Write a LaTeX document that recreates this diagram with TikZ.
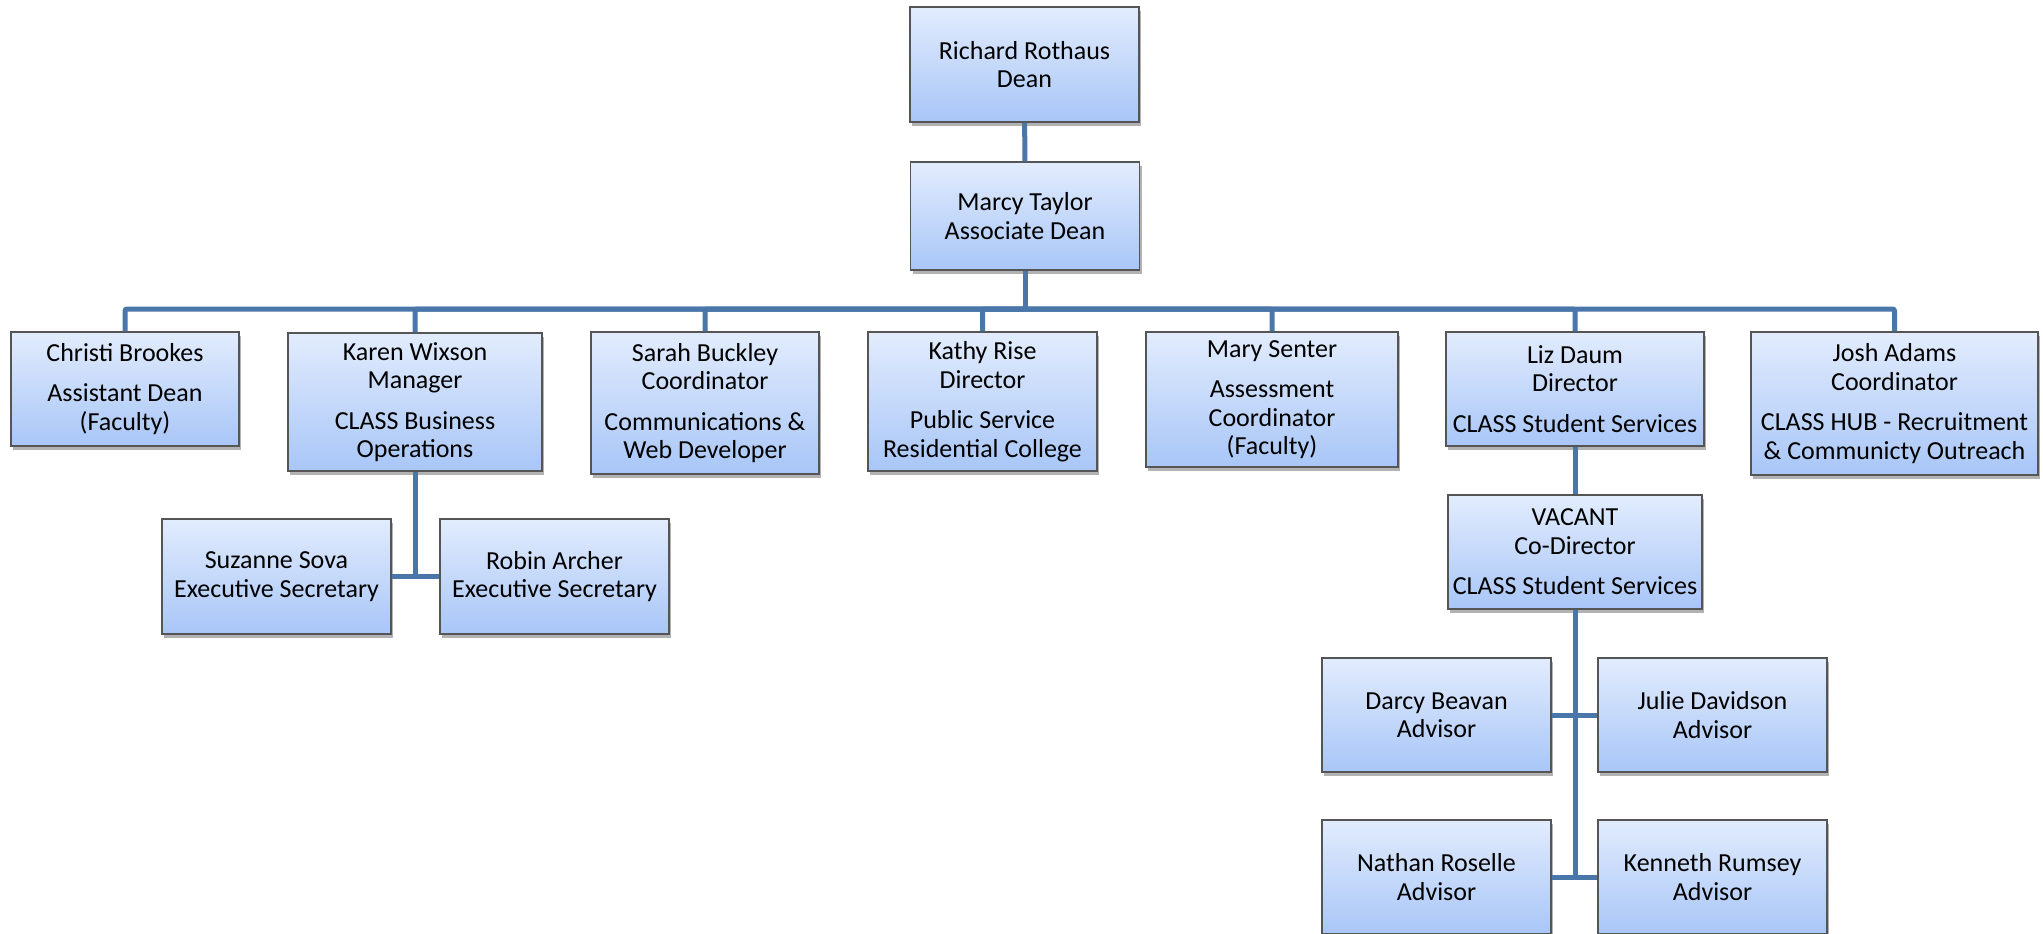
\documentclass[tikz,border=0pt]{standalone}
\usepackage{fontspec}
\setmainfont{Carlito}
\usepackage{tikz}
\usetikzlibrary{shadows}
\definecolor{boxtop}{RGB}{226,236,253}
\definecolor{boxbot}{RGB}{168,198,247}
\definecolor{boxline}{RGB}{85,85,85}
\definecolor{orgblue}{RGB}{74,118,170}
\tikzset{person/.style={draw=boxline, line width=1.2pt, top color=boxtop, bottom color=boxbot,
    minimum width=#1, inner sep=3pt, align=center, text=black,
    font=\fontsize{26}{28.5}\selectfont,
    drop shadow={shadow xshift=2pt, shadow yshift=-4pt, fill=black, opacity=0.3}},
  person/.default={229pt},
  link/.style={draw=orgblue, line width=5pt, rounded corners=2pt}}

\begin{document}
\begin{tikzpicture}[x=1pt, y=-1pt]
    \useasboundingbox (0,0) rectangle (2043,934);

    % top of the chart
    \node [person, minimum height=115pt] (rich) at (1024.5,64.5) {Richard Rothaus\\Dean};
    \node [person, minimum height=108pt] (marcy) at (1025,216) {Marcy Taylor\\Associate Dean};

    % second row
    \node [person=228pt, minimum height=114pt] (christi) at (125,389) {Christi Brookes\\[12pt]Assistant Dean\\(Faculty)};
    \node [person=254pt, minimum height=138pt] (karen) at (415,402) {Karen Wixson\\Manager\\[12pt]CLASS Business\\Operations};
    \node [person=228pt, minimum height=142pt] (sarah) at (705,403) {Sarah Buckley\\Coordinator\\[12pt]Communications \&\\Web Developer};
    \node [person, minimum height=139pt] (kathy) at (982.5,401.5) {Kathy Rise\\Director\\[12pt]Public Service\\Residential College};
    \node [person=252pt, minimum height=135pt] (mary) at (1272,399.5) {Mary Senter\\[12pt]Assessment\\Coordinator\\(Faculty)};
    \node [person=258pt, minimum height=114pt] (liz) at (1575,389) {Liz Daum\\Director\\[12pt]CLASS Student Services};
    \node [person=287pt, minimum height=143pt] (josh) at (1894.5,403.5) {Josh Adams\\Coordinator\\[12pt]CLASS HUB - Recruitment\\\& Communicty Outreach};

    % under Karen
    \node [person, minimum height=115pt] (suzanne) at (276.5,576.5) {Suzanne Sova\\Executive Secretary};
    \node [person, minimum height=115pt] (robin) at (554.5,576.5) {Robin Archer\\Executive Secretary};

    % under Liz
    \node [person=254pt, minimum height=114pt] (vacant) at (1575,552) {VACANT\\Co-Director\\[12pt]CLASS Student Services};
    \node [person, minimum height=114pt] (darcy) at (1436.5,715) {Darcy Beavan\\Advisor};
    \node [person, minimum height=114pt] (julie) at (1712.5,715) {Julie Davidson\\Advisor};
    \node [person, minimum height=114pt] (nathan) at (1436.5,877) {Nathan Roselle\\Advisor};
    \node [person, minimum height=114pt] (kenneth) at (1712.5,877) {Kenneth Rumsey\\Advisor};

    \coordinate (bar) at (1025,309);
    \coordinate (kj) at (415,576);
    \coordinate (vj) at (1575,877);

    \path[link] (rich) edge (marcy)
        (marcy) edge (bar)
        (karen) edge (kj)
        (suzanne.east) edge (robin.west)
        (liz) edge (vacant)
        (vacant) edge (vj)
        (darcy.east) edge (julie.west)
        (nathan.east) edge (kenneth.west);
    \foreach \who in {christi, karen, sarah, kathy, mary, liz, josh}
        \draw[link] (bar) -| (\who.north);

\end{tikzpicture}
\end{document}
